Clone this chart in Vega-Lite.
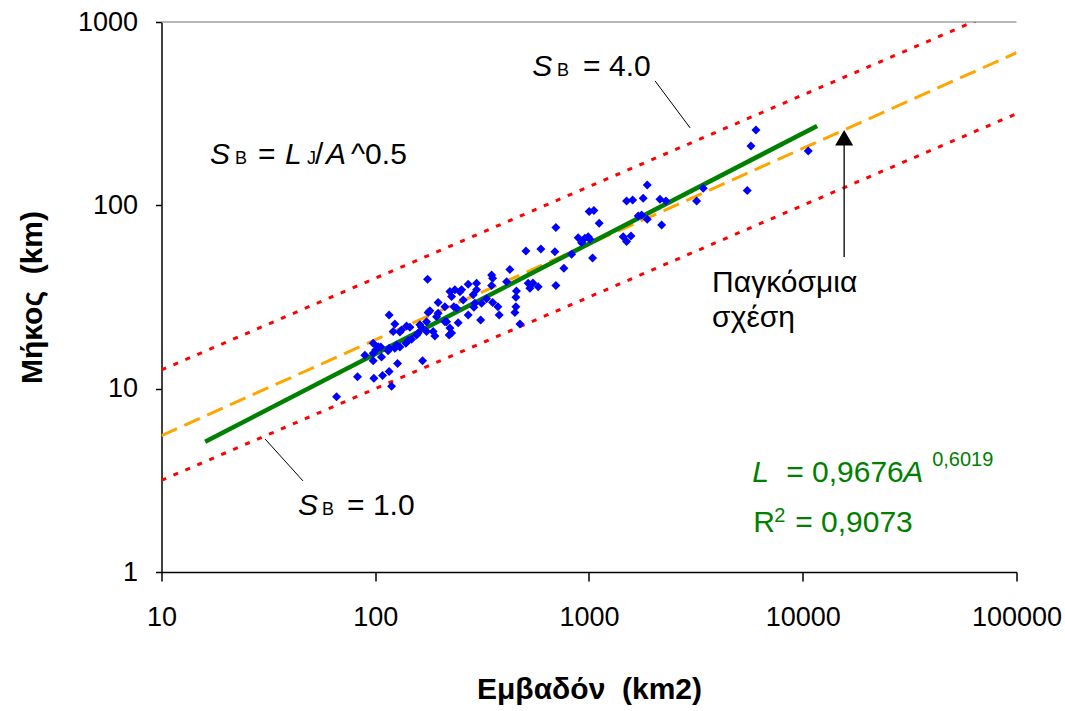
{
  "$schema": "https://vega.github.io/schema/vega-lite/v6.json",
  "width": 855,
  "height": 550,
  "autosize": {"type": "none"},
  "padding": {"left": 161.5, "top": 22, "right": 48.5, "bottom": 139},
  "background": "white",
  "datasets": {
    "points": [
      {"A":65.9,"L":9.04},{"A":82.6,"L":11.6},{"A":89.4,"L":15.2},{"A":97.8,"L":17.7},{"A":103.2,"L":16.95},
      {"A":100.6,"L":16.3},{"A":97.8,"L":15.6},{"A":107,"L":14.9},{"A":97.8,"L":14.2},{"A":98.5,"L":11.4},
      {"A":108.2,"L":11.8},{"A":116.1,"L":12.4},{"A":119.2,"L":10.3},{"A":127.2,"L":13.7},{"A":106.2,"L":16.9},
      {"A":114.9,"L":16.1},{"A":116.1,"L":16.6},{"A":123.5,"L":16.6},{"A":125.8,"L":17.3},{"A":130.4,"L":16.9},
      {"A":121.3,"L":20.5},{"A":123.5,"L":22.5},{"A":116.1,"L":25.2},{"A":132.8,"L":20.9},{"A":130.4,"L":20.4},
      {"A":140.1,"L":22},{"A":145.2,"L":21.6},{"A":142.6,"L":18.3},{"A":147.9,"L":18.6},{"A":139.1,"L":17.7},
      {"A":156.1,"L":19.6},{"A":158.8,"L":20.1},{"A":161.7,"L":22.3},{"A":164.7,"L":21.6},{"A":166.5,"L":14.2},
      {"A":173.8,"L":23.2},{"A":176.8,"L":26},{"A":180.1,"L":26.6},{"A":175.7,"L":39.5},{"A":173.8,"L":20.5},
      {"A":186.6,"L":20.5},{"A":190.1,"L":19.4},{"A":193.6,"L":24.7},{"A":196.9,"L":25.8},{"A":196.9,"L":29.5},
      {"A":211.7,"L":23.2},{"A":215.6,"L":23.2},{"A":211.7,"L":28},{"A":223.5,"L":33.9},{"A":227.5,"L":31.8},
      {"A":223.5,"L":21.4},{"A":227.5,"L":20.1},{"A":221.8,"L":19.6},{"A":235.8,"L":34.6},{"A":248.9,"L":33.8},
      {"A":233.3,"L":28},{"A":240.1,"L":27.5},{"A":244.3,"L":22.9},{"A":253.4,"L":34.6},{"A":257.8,"L":30.5},
      {"A":272.1,"L":37.1},{"A":297.9,"L":37.6},{"A":297.9,"L":34.6},{"A":287.2,"L":32.5},{"A":292.5,"L":29.2},
      {"A":289.4,"L":27.8},{"A":272.1,"L":25.2},{"A":311.1,"L":23.7},{"A":314.4,"L":29.2},{"A":331.8,"L":30.9},
      {"A":350.2,"L":41.7},{"A":354,"L":40},{"A":350.2,"L":36.5},{"A":354,"L":29.5},{"A":374.8,"L":28},
      {"A":380,"L":25.2},{"A":411.6,"L":38.3},{"A":426.5,"L":44.7},{"A":457.5,"L":34.1},{"A":455,"L":31.5},
      {"A":455,"L":28},{"A":450.1,"L":26},{"A":475.1,"L":22.5},{"A":519.5,"L":37.6},{"A":529.1,"L":35.3},
      {"A":546.5,"L":37.7},{"A":578.6,"L":36},{"A":506.8,"L":56.4},{"A":595.6,"L":57.8},{"A":692.3,"L":55.9},
      {"A":699.8,"L":75.6},{"A":699.8,"L":36.5},{"A":829.1,"L":54.1},{"A":762.9,"L":45.4},{"A":890.2,"L":66.6},
      {"A":956.7,"L":66.1},{"A":991.5,"L":67.5},{"A":1010,"L":65.3},{"A":923.6,"L":62.6},{"A":1039,"L":51.6},
      {"A":1002,"L":92.6},{"A":1054,"L":93.6},{"A":1116,"L":79.9},{"A":1445,"L":67.5},{"A":1571,"L":68.1},
      {"A":1499,"L":63.4},{"A":1499,"L":105.7},{"A":1600,"L":107},{"A":1793,"L":109.3},{"A":1873,"L":129.2},
      {"A":1699,"L":87.5},{"A":1763,"L":88.6},{"A":1873,"L":84},{"A":2147,"L":108},{"A":2290,"L":105.7},
      {"A":2186,"L":78.2},{"A":3188,"L":105.7},{"A":3423,"L":124},{"A":5500,"L":120.3},{"A":5722,"L":210.9},
      {"A":6039,"L":257.8},{"A":10610,"L":198.1}
    ],
    "redLines": [
      {"s":"u","A":10,"L":12.65},{"s":"u","A":100000,"L":1265},
      {"s":"l","A":10,"L":3.162},{"s":"l","A":100000,"L":316.2}
    ],
    "orange": [{"A":10,"L":5.55},{"A":100000,"L":680}],
    "green": [{"A":16,"L":5.13},{"A":11670,"L":271}],
    "topLine": [{"A":10,"L":1000},{"A":100000,"L":1000}],
    "leaders": [
      {"A":2038,"L":477,"A2":2972,"L2":264.5},
      {"A":30.5,"L":5.32,"A2":45.9,"L2":3.14}
    ],
    "arrow": [{"A":15620,"L":52.3,"L2":236}],
    "arrowHead": [{"A":15620,"L":233.8}],
    "blackItalic": [
      {"A":16.87,"L":168.2,"t":"S"},{"A":37.84,"L":168.2,"t":"L"},{"A":58.86,"L":168.2,"t":"A"},
      {"A":541.9,"L":508,"t":"S"},{"A":43.53,"L":2.046,"t":"S"}
    ],
    "blackSub": [
      {"A":22.08,"L":168.2,"t":"B"},{"A":47.96,"L":168.2,"t":"J"},
      {"A":709.1,"L":508,"t":"B"},{"A":56.37,"L":2.046,"t":"B"}
    ],
    "blackNormal": [
      {"A":28.29,"L":168.2,"t":"="},{"A":52.29,"L":168.2,"t":"/"},{"A":77.05,"L":168.2,"t":"^0.5"},
      {"A":938.4,"L":508,"t":"= 4.0"},{"A":73.79,"L":2.046,"t":"= 1.0"},
      {"A":3767,"L":33.7,"t":"Παγκόσμια"},{"A":3767,"L":21.71,"t":"σχέση"}
    ],
    "greenItalic": [{"A":5798,"L":3.097,"t":"L"},{"A":29490,"L":3.097,"t":"A"}],
    "greenNormal": [
      {"A":8362,"L":3.097,"t":"= 0,9676"},{"A":5861,"L":1.653,"t":"R"},{"A":9214,"L":1.653,"t":"= 0,9073"}
    ],
    "greenSmall": [{"A":40320,"L":3.787,"t":"0,6019"},{"A":7348,"L":1.874,"t":"2"}]
  },
  "encoding": {
    "x": {
      "field": "A", "type": "quantitative",
      "scale": {"type": "log", "domain": [10, 100000]},
      "axis": {"values": [10, 100, 1000, 10000, 100000], "format": "d", "title": "Εμβαδόν\u00a0\u00a0(km2)"}
    },
    "y": {
      "field": "L", "type": "quantitative",
      "scale": {"type": "log", "domain": [1, 1000]},
      "axis": {"values": [1, 10, 100, 1000], "format": "d", "title": "Μήκος\u00a0\u00a0(km)"}
    }
  },
  "layer": [
    {"data": {"name": "topLine"}, "mark": {"type": "line", "color": "#a0a0a0", "strokeWidth": 1.5}},
    {"data": {"name": "redLines"}, "mark": {"type": "line", "color": "#ff0000", "strokeWidth": 3, "strokeDash": [5, 8], "clip": true}, "encoding": {"detail": {"field": "s"}}},
    {"data": {"name": "orange"}, "mark": {"type": "line", "color": "#ffa500", "strokeWidth": 3, "strokeDash": [17, 8], "clip": true}},
    {"data": {"name": "green"}, "mark": {"type": "line", "color": "#008000", "strokeWidth": 4.5}},
    {"data": {"name": "points"}, "mark": {"type": "point", "shape": "diamond", "filled": true, "color": "#0000ff", "opacity": 1, "size": 81}},
    {"data": {"name": "leaders"}, "mark": {"type": "rule", "color": "black", "strokeWidth": 1}, "encoding": {"x2": {"field": "A2"}, "y2": {"field": "L2"}}},
    {"data": {"name": "arrow"}, "mark": {"type": "rule", "color": "#222222", "strokeWidth": 1.5}, "encoding": {"y2": {"field": "L2"}}},
    {"data": {"name": "arrowHead"}, "mark": {"type": "point", "shape": "triangle-up", "filled": true, "color": "black", "opacity": 1, "size": 324}},
    {"data": {"name": "blackItalic"}, "mark": {"type": "text", "align": "left", "baseline": "alphabetic", "font": "Liberation Sans", "fontSize": 30, "fontStyle": "italic", "color": "black"}, "encoding": {"text": {"field": "t"}}},
    {"data": {"name": "blackSub"}, "mark": {"type": "text", "align": "left", "baseline": "alphabetic", "font": "Liberation Sans", "fontSize": 18, "color": "black"}, "encoding": {"text": {"field": "t"}}},
    {"data": {"name": "blackNormal"}, "mark": {"type": "text", "align": "left", "baseline": "alphabetic", "font": "Liberation Sans", "fontSize": 30, "color": "black"}, "encoding": {"text": {"field": "t"}}},
    {"data": {"name": "greenItalic"}, "mark": {"type": "text", "align": "left", "baseline": "alphabetic", "font": "Liberation Sans", "fontSize": 30, "fontStyle": "italic", "color": "#008000"}, "encoding": {"text": {"field": "t"}}},
    {"data": {"name": "greenNormal"}, "mark": {"type": "text", "align": "left", "baseline": "alphabetic", "font": "Liberation Sans", "fontSize": 30, "color": "#008000"}, "encoding": {"text": {"field": "t"}}},
    {"data": {"name": "greenSmall"}, "mark": {"type": "text", "align": "left", "baseline": "alphabetic", "font": "Liberation Sans", "fontSize": 20, "color": "#008000"}, "encoding": {"text": {"field": "t"}}}
  ],
  "config": {
    "font": "Liberation Sans",
    "view": {"stroke": null},
    "axis": {
      "domainColor": "black", "domainWidth": 1.5, "tickColor": "black", "tickWidth": 1.5, "grid": false,
      "labelFont": "Liberation Sans", "labelFontSize": 27, "labelColor": "black", "labelOverlap": false,
      "titleFont": "Liberation Sans", "titleFontSize": 30, "titleFontWeight": "bold", "titleColor": "black"
    },
    "axisX": {"tickSize": 9, "labelPadding": 23, "titlePadding": 44, "labelFlush": false},
    "axisY": {"tickSize": 6, "labelPadding": 18, "titlePadding": 30}
  }
}
